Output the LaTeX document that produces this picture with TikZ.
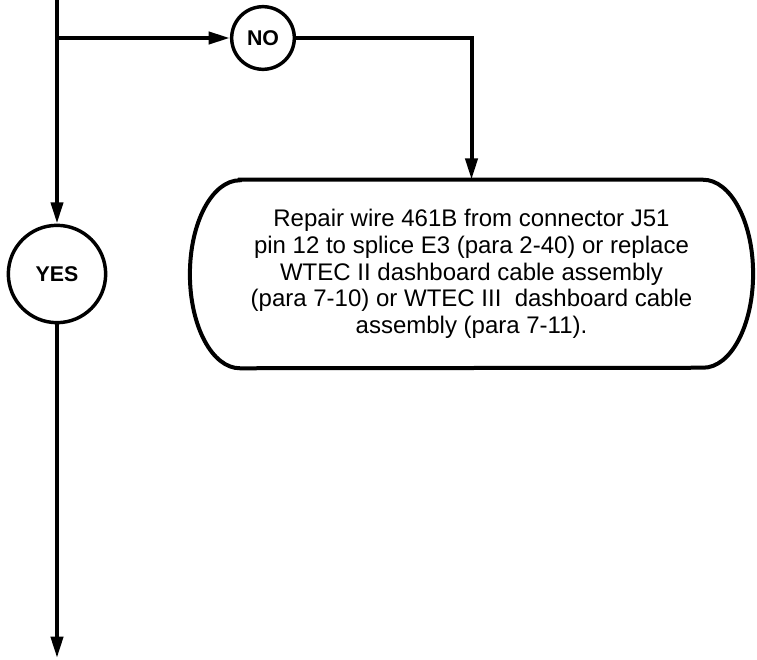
\documentclass[tikz,border=0pt]{standalone}
\usepackage{fontspec}
\setmainfont{Liberation Sans}
\usetikzlibrary{arrows.meta, positioning, calc}

\begin{document}
\begin{tikzpicture}[x=0.75pt, y=-0.75pt,
    wire/.style={line width=3pt},
    flow/.style={wire, -{Triangle[length=16pt, width=9pt]}},
    answer/.style={circle, draw, line width=2.6pt, inner sep=0pt,
                   font=\fontsize{16}{19}\selectfont\bfseries},
    action/.style={align=center, inner sep=0pt, minimum width=422pt,
                   minimum height=141pt, font=\fontsize{18}{20}\selectfont}
]
\useasboundingbox (0,0) rectangle (757,660);

% Answers
\node[answer, minimum size=47pt] (no) at (263,38) {NO};
\node[answer, minimum size=73pt] (yes) at (57,274) {YES};

% Action
\node[action] (repair) at (471.5,274) {Repair wire 461B from connector J51\\
    pin 12 to splice E3 (para 2-40) or replace\\
    WTEC II dashboard cable assembly\\
    (para 7-10) or WTEC III\ \ dashboard cable\\
    assembly (para 7-11).};
\draw[wire] ($(repair.north west)+(50,0)$) -- ($(repair.north east)+(-50,0)$)
    arc[start angle=90, end angle=-90, x radius=37.5pt, y radius=70.5pt]
    -- ($(repair.south west)+(50,0)$)
    arc[start angle=270, end angle=90, x radius=37.5pt, y radius=70.5pt] -- cycle;

% Connectors
\coordinate (top) at (57,0);
\coordinate (split) at (57,38);
\coordinate (bend) at (471.5,38);
\coordinate (end) at (57,658);
\draw[wire] (top) -- (split);
\draw[flow] (split) -- (no);
\draw[flow] (no) -- (bend) -- (repair.north);
\draw[flow] (split) -- (yes);
\draw[flow] (yes) -- (end);

\end{tikzpicture}
\end{document}
